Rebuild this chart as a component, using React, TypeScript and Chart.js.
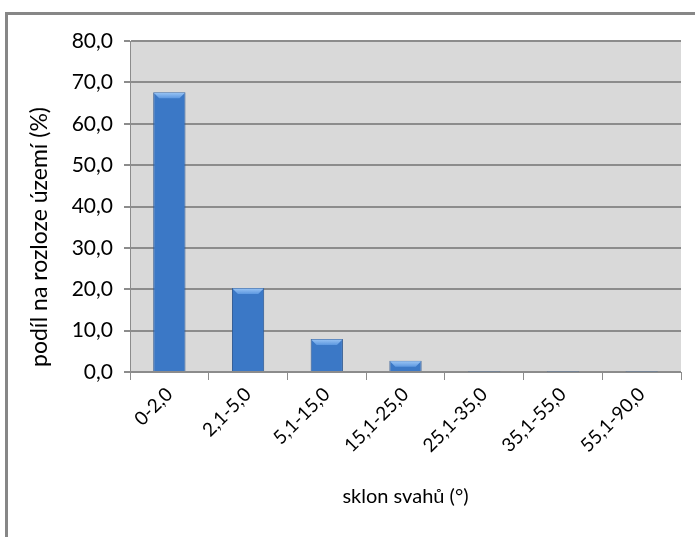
import React, { useEffect, useRef } from "react";
import { Chart, registerables } from "chart.js";

Chart.register(...registerables);

const categories = ["0-2,0", "2,1-5,0", "5,1-15,0", "15,1-25,0", "25,1-35,0", "35,1-55,0", "55,1-90,0"];
const shares = [67.6, 20.3, 8.0, 2.7, 0.15, 0.1, 0.1];
const yTicks = [0, 10, 20, 30, 40, 50, 60, 70, 80];
const xTitle = "sklon svahů (°)";
const yTitle = "podíl na rozloze území (%)";

const FONT = "Lato, 'Open Sans', sans-serif";
const YTICK_SIZE = 21;
const XTICK_SIZE = 19;
const XTITLE_SIZE = 20;
const YTITLE_SIZE = 23;
const BOTTOM_PAD = 28;

const plotBg = {
  id: "plotBg",
  beforeDraw(chart: any) {
    const { ctx, chartArea } = chart;
    ctx.save();
    ctx.fillStyle = "#d9d9d9";
    ctx.fillRect(chartArea.left, chartArea.top, chartArea.right - chartArea.left, chartArea.bottom - chartArea.top);
    ctx.restore();
  },
};

const yTitlePlugin = {
  id: "yTitlePlugin",
  afterDraw(chart: any) {
    const { ctx } = chart;
    ctx.save();
    ctx.translate(40, 237);
    ctx.rotate(-Math.PI / 2);
    ctx.fillStyle = "#000";
    ctx.font = `${YTITLE_SIZE}px ${FONT}`;
    ctx.textAlign = "center";
    ctx.textBaseline = "middle";
    ctx.fillText(yTitle, 0, 0);
    ctx.restore();
  },
};

const bevel = {
  id: "bevel",
  afterDatasetsDraw(chart: any) {
    const { ctx } = chart;
    const meta = chart.getDatasetMeta(0);
    ctx.save();
    meta.data.forEach((bar: any) => {
      const w = bar.width;
      const left = bar.x - w / 2;
      const right = bar.x + w / 2;
      const top = bar.y;
      const h = bar.base - bar.y;
      const d = Math.min(6, h);
      if (h < 1) return;
      const g = ctx.createLinearGradient(0, top, 0, top + d);
      g.addColorStop(0, "#9cc6f5");
      g.addColorStop(1, "#5d98e0");
      ctx.fillStyle = g;
      ctx.beginPath();
      ctx.moveTo(left + 0.5, top + 0.5);
      ctx.lineTo(right - 0.5, top + 0.5);
      ctx.lineTo(right - d, top + d);
      ctx.lineTo(left + d, top + d);
      ctx.closePath();
      ctx.fill();
    });
    ctx.restore();
  },
};

export default function App() {
  const ref = useRef<HTMLCanvasElement>(null);
  useEffect(() => {
    const canvas = ref.current!;
    const chart = new Chart(canvas, {
      type: "bar",
      data: {
        labels: categories,
        datasets: [
          {
            data: shares,
            backgroundColor: (c: any) => {
              const el = c.element;
              const ch = c.chart;
              if (!el || el.width == null || !isFinite(el.x)) return "#3b78c6";
              const g = ch.ctx.createLinearGradient(el.x - el.width / 2, 0, el.x + el.width / 2, 0);
              g.addColorStop(0, "#24528f");
              g.addColorStop(0.3, "#3f7fcf");
              g.addColorStop(0.55, "#4486d6");
              g.addColorStop(1, "#24528f");
              return g;
            },
            borderColor: "#2b5690",
            borderWidth: 1,
            barPercentage: 0.41,
            categoryPercentage: 1,
          },
        ],
      },
      options: {
        responsive: false,
        animation: false,
        layout: { padding: { left: 22, right: 14, top: 41, bottom: BOTTOM_PAD } },
        plugins: { legend: { display: false }, tooltip: { enabled: false } },
        scales: {
          x: {
            grid: { drawOnChartArea: false, drawTicks: true, tickLength: 8, color: "#8c8c8c", lineWidth: 1 },
            border: { display: true, color: "#8c8c8c", width: 1 },
            ticks: { maxRotation: 45, minRotation: 45, color: "#000", font: { family: FONT, size: XTICK_SIZE }, padding: 3 },
            title: { display: true, text: xTitle, color: "#000", font: { family: FONT, size: XTITLE_SIZE }, padding: { top: 8, bottom: 0 } },
            afterFit: (s: any) => { s.height = 537 - 372 - BOTTOM_PAD; },
          },
          y: {
            min: 0,
            max: 80,
            afterBuildTicks: (s: any) => { s.ticks = yTicks.map((v) => ({ value: v })); },
            grid: { color: "#8c8c8c", lineWidth: 2, tickLength: 6 },
            border: { display: true, color: "#8c8c8c", width: 1 },
            ticks: {
              color: "#000",
              font: { family: FONT, size: YTICK_SIZE },
              padding: 11,
              callback: (v: any) => Number(v).toFixed(1).replace(".", ","),
            },
            title: { display: false },
            afterFit: (s: any) => { s.width = 130 - 22; },
          },
        },
      },
      plugins: [plotBg, bevel, yTitlePlugin],
    } as any);
    return () => chart.destroy();
  }, []);
  return (
    <div style={{ position: "absolute", left: 0, top: 0, width: 695, height: 537, background: "#fff", overflow: "hidden" }}>
      <div style={{ position: "absolute", left: 5, top: 12, width: 720, height: 560, border: "3px solid #878787", boxSizing: "border-box" }} />
      <canvas ref={ref} width={695} height={537} style={{ position: "absolute", left: 0, top: 0 }} />
    </div>
  );
}
